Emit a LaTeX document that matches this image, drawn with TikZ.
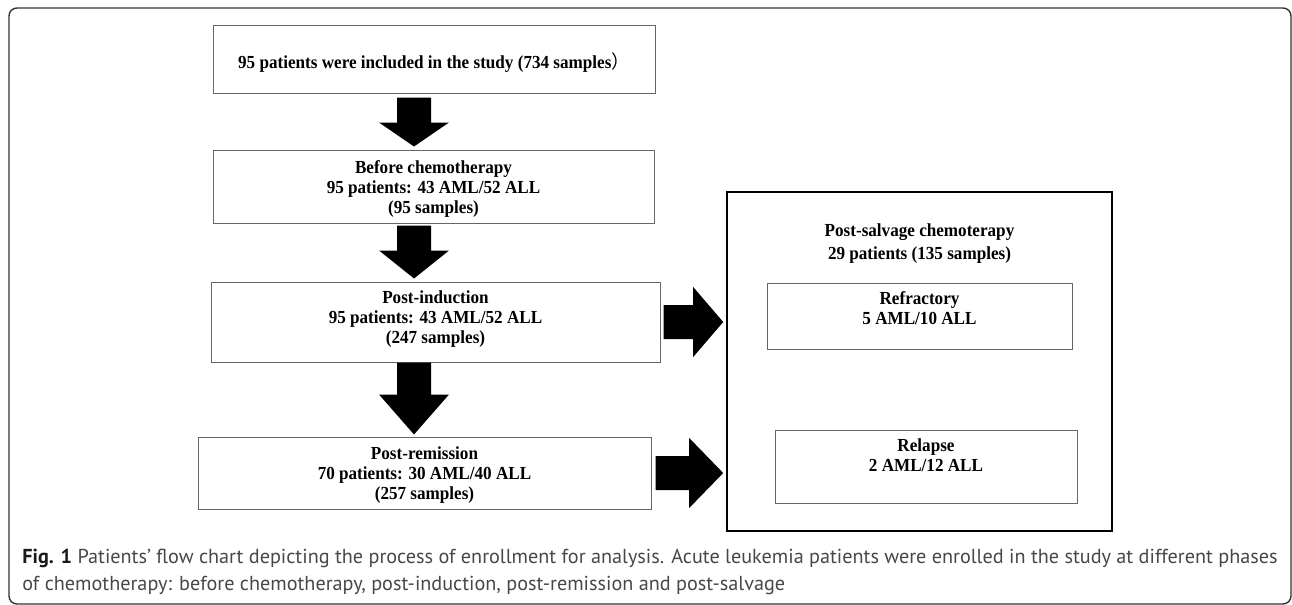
\documentclass[tikz,border=0pt]{standalone}
\usepackage{fontspec}
\setmainfont[FakeStretch=0.93]{Liberation Serif}
\newfontfamily\capfont{PT Sans}
\newfontfamily\cjk{Noto Sans CJK SC}
\usetikzlibrary{calc}

\def\u{0.5pt} % one pixel of the layout
% text of a box, raised by #1 and centred on the node
\newcommand{\boxtext}[2]{\raisebox{\dimexpr#1-2.5pt\relax}[0pt][0pt]{\begin{tabular}{@{}c@{}}#2\end{tabular}}}
% fat block arrows: #1 start, #2 tip, #3 head length (px)
\newcommand{\downblock}[3]{%
  \fill[blockarrow] let \p1=(#1), \p2=(#2) in
    (\x1-17*\u,\y1)--(\x1+17*\u,\y1)--(\x1+17*\u,\y2+#3*\u)--(\x1+35*\u,\y2+#3*\u)
    --(\x1,\y2)--(\x1-35*\u,\y2+#3*\u)--(\x1-17*\u,\y2+#3*\u)--cycle;}
\newcommand{\rightblock}[3]{%
  \fill[blockarrow] let \p1=(#1), \p2=(#2) in
    (\x1,\y1+17*\u)--(\x2-#3*\u,\y1+17*\u)--(\x2-#3*\u,\y1+35*\u)--(\x2,\y1)
    --(\x2-#3*\u,\y1-35*\u)--(\x2-#3*\u,\y1-17*\u)--(\x1,\y1-17*\u)--cycle;}

\tikzset{
  stage/.style={draw=black!60, line width=0.5pt, inner sep=0pt,
    font=\fontsize{9.2}{10}\selectfont\bfseries},
  group/.style={stage, draw=black, line width=0.8pt},
  blockarrow/.style={fill=black},
  caption/.style={inner sep=0pt, align=left, text=black!72,
    font=\capfont\fontsize{10.1}{13.6}\selectfont},
}

\begin{document}
\begin{tikzpicture}[x=0.5pt,y=-0.5pt]

  \useasboundingbox (0,0) rectangle (1292,605);
  \draw[black!80, line width=0.7pt, rounded corners=8*\u] (9,8) rectangle (1291,604);	%frame

  %LEFT COLUMN
  \node[stage, minimum width=442*\u, minimum height=68*\u] (incl) at (434,59)
    {\boxtext{-2pt}{95 patients were included in the study (734 samples{\cjk\mdseries ）}}};
  \node[stage, minimum width=441*\u, minimum height=73*\u] (before) at (433.5,186.5)
    {\boxtext{-1pt}{Before chemotherapy\\95 patients: 43 AML/52 ALL\\(95 samples)}};
  \node[stage, minimum width=449*\u, minimum height=80*\u] (induct) at (435.5,322)
    {\boxtext{1.5pt}{Post-induction\\95 patients: 43 AML/52 ALL\\(247 samples)}};
  \node[stage, minimum width=453*\u, minimum height=72*\u] (remiss) at (424.5,473)
    {\boxtext{-1pt}{Post-remission\\70 patients: 30 AML/40 ALL\\(257 samples)}};

  %RIGHT COLUMN
  \node[group, minimum width=385*\u, minimum height=339*\u] (salv) at (919.5,361.5)
    {\boxtext{59pt}{Post-salvage chemoterapy\\[1.5pt]29 patients (135 samples)}};
  \node[stage, minimum width=305*\u, minimum height=66*\u] (refr) at (919.5,316)
    {\boxtext{3pt}{Refractory\\5 AML/10 ALL}};
  \node[stage, minimum width=302*\u, minimum height=73*\u] (relap) at (926,466.5)
    {\boxtext{4.75pt}{Relapse\\2 AML/12 ALL}};

  %ARROWS
  \coordinate (vcol) at (414,0);	%column of the down arrows
  \downblock{$(vcol |- incl.south)+(0,4)$}{$(vcol |- before.north)+(0,-3)$}{24}
  \downblock{$(vcol |- before.south)+(0,2)$}{$(vcol |- induct.north)+(0,-3)$}{28}
  \downblock{$(vcol |- induct.south)$}{$(vcol |- remiss.north)+(0,-2)$}{40}
  \rightblock{$(induct.east)+(3,0)$}{$(salv.west |- induct.east)+(-3,0)$}{30}
  \rightblock{$(remiss.east)+(4,0)$}{$(salv.west |- remiss.east)+(-3,0)$}{34}

  %CAPTION
  \node[caption, anchor=north west] (cap) at (22,549)
    {{\bfseries\color{black!90}Fig. 1} Patients’ flow chart depicting the process of enrollment for analysis. Acute leukemia patients were enrolled in the study at different phases\\
     of chemotherapy: before chemotherapy, post-induction, post-remission and post-salvage};

\end{tikzpicture}
\end{document}
